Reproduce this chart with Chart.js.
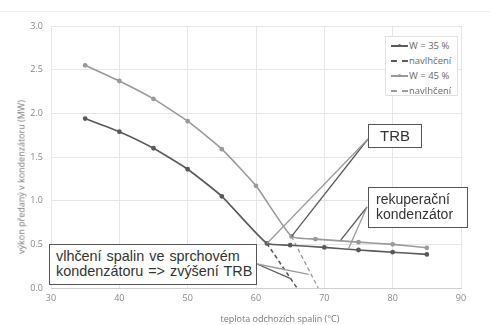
<!DOCTYPE html>
<html>
<head>
<meta charset="utf-8">
<script src="https://cdn.jsdelivr.net/npm/chart.js@4.4.1/dist/chart.umd.min.js"></script>
<style>
  body { margin: 0; background: #fff; }
  #wrap { position: relative; width: 490px; height: 325px; overflow: hidden; }
  #topline { position: absolute; left: 0; top: 11px; width: 490px; border-top: 1px solid #eee; }
  .box { position: absolute; background: #fff; border: 1px solid #555; font-family: "Liberation Sans", Arial, sans-serif; color: #333; box-sizing: border-box; }
  .ytitle { position: absolute; left: 21px; top: 177px; transform: translate(-50%, -50%) rotate(-90deg); white-space: nowrap;
            font: 9px "Open Sans", sans-serif; color: #777; }
  .xtitle { position: absolute; left: 280px; top: 318px; transform: translate(-50%, -50%); white-space: nowrap;
            font: 9px "Open Sans", sans-serif; color: #777; }
  #legend { position: absolute; left: 385px; top: 36px; width: 73px; height: 60px; border: 1px solid #e2e2e2; background: #fff;
            box-sizing: border-box; font: 9.5px "Open Sans", sans-serif; color: #6a6a6a; padding-top: 1px; }
  #legend div { height: 15px; line-height: 15px; white-space: nowrap; position: relative; padding-left: 23px; }
  #legend .sw { position: absolute; left: 5px; top: 7px; width: 17px; height: 0; }
  #legend .dot { position: absolute; left: 12px; top: 5.5px; width: 3px; height: 3px; border-radius: 50%; }
</style>
</head>
<body>
<div id="wrap">
  <canvas id="chart" width="490" height="325"></canvas>
  <div id="topline"></div>
  <div class="ytitle">výkon předaný v kondenzátoru (MW)</div>
  <div class="xtitle">teplota odchozích spalin (°C)</div>
  <div id="legend"></div>
  <div class="box" style="left:368px; top:124px; width:54px; height:24px; font-size:15px; line-height:22px; text-align:center;">TRB</div>
  <div class="box" style="left:368px; top:187px; width:100px; height:41px; font-size:14px; line-height:15px; padding:4px 0 0 7px;">rekuperační<br>kondenzátor</div>
  <div class="box" style="left:49px; top:244px; width:208px; height:41px; font-size:14.4px; line-height:15px; padding:4px 0 0 6px; word-spacing:1px;">vlhčení spalin ve sprchovém<br>kondenzátoru =&gt; zvýšení TRB</div>
</div>
<script>
// teplota spalin (°C) a výkon (MW)
const temp35 = [35, 40, 45, 50, 55, 61.6, 65, 70, 75, 80, 85];
const power35 = [1.94, 1.79, 1.60, 1.36, 1.05, 0.51, 0.49, 0.465, 0.435, 0.41, 0.385];
const temp45 = [35, 40, 45, 50, 55, 60, 65.2, 68.7, 75, 80, 85];
const power45 = [2.55, 2.37, 2.165, 1.91, 1.59, 1.17, 0.59, 0.56, 0.525, 0.50, 0.46];
// navlhčení (čárkovaně)
const wetTemp35 = [61.6, 66];
const wetPower35 = [0.51, 0];
const wetTemp45 = [65.2, 69.1];
const wetPower45 = [0.59, 0];

const seriesLabels = ['W = 35 %', 'navlhčení', 'W = 45 %', 'navlhčení'];
const xTicks = [30, 40, 50, 60, 70, 80, 90];
const yTicks = [0, 0.5, 1, 1.5, 2, 2.5, 3];

const dark = '#5a5a5a';
const light = '#9a9a9a';

function pts(xs, ys) {
    return xs.map((x, i) => ({ x: x, y: ys[i] }));
}

// legenda
const legendEl = document.getElementById('legend');
const legendStyle = [
    { color: dark, dash: false },
    { color: dark, dash: true },
    { color: light, dash: false },
    { color: light, dash: true }
];
seriesLabels.forEach((lab, i) => {
    const s = legendStyle[i];
    const row = document.createElement('div');
    row.innerHTML = '<span class="sw" style="border-top:2px ' + (s.dash ? 'dashed ' : 'solid ') + s.color + '"></span>' +
        (s.dash ? '' : '<span class="dot" style="background:' + s.color + '"></span>') + lab;
    legendEl.appendChild(row);
});

// odkazové čáry od popisků
const callouts = {
    id: 'callouts',
    afterDatasetsDraw(chart) {
        const c = chart.ctx;
        const X = v => chart.scales.x.getPixelForValue(v);
        const Y = v => chart.scales.y.getPixelForValue(v);
        const lines = [
            [368, 139, X(65.2), Y(0.59), dark],
            [368, 139, X(61.6), Y(0.51), light],
            [367, 207, X(72.4), Y(0.548), dark],
            [367, 207, X(73.5), Y(0.443), light],
            [257, 264, X(65.0), Y(0.11), dark],
            [257, 264, X(67.7), Y(0.155), light]
        ];
        c.save();
        c.lineWidth = 1.3;
        lines.forEach(l => {
            c.strokeStyle = l[4];
            c.beginPath();
            c.moveTo(l[0], l[1]);
            c.lineTo(l[2], l[3]);
            c.stroke();
        });
        c.restore();
    }
};

const tickFont = { family: 'Open Sans', size: 9 };

new Chart(document.getElementById('chart').getContext('2d'), {
    type: 'scatter',
    data: {
        datasets: [
            {
                label: seriesLabels[0], data: pts(temp35, power35), showLine: true,
                borderColor: dark, backgroundColor: dark, borderWidth: 1.6,
                pointRadius: 1.6, tension: 0.15
            },
            {
                label: seriesLabels[1], data: pts(wetTemp35, wetPower35), showLine: true,
                borderColor: dark, borderWidth: 1.6, borderDash: [4, 3], pointRadius: 0
            },
            {
                label: seriesLabels[2], data: pts(temp45, power45), showLine: true,
                borderColor: light, backgroundColor: light, borderWidth: 1.6,
                pointRadius: 1.6, tension: 0.15
            },
            {
                label: seriesLabels[3], data: pts(wetTemp45, wetPower45), showLine: true,
                borderColor: light, borderWidth: 1.3, borderDash: [4, 3], pointRadius: 0
            }
        ]
    },
    options: {
        responsive: false,
        animation: false,
        layout: { padding: { left: 0, top: 26, right: 29, bottom: 0 } },
        plugins: { legend: { display: false }, tooltip: { enabled: false } },
        scales: {
            x: {
                type: 'linear', min: 30, max: 90,
                afterBuildTicks: s => { s.ticks = xTicks.map(v => ({ value: v })); },
                afterFit: s => { s.height = 37; },
                ticks: { color: '#888', font: tickFont, padding: 5 },
                grid: { color: '#e6e6e6', drawTicks: false },
                border: { color: '#d0d0d0' }
            },
            y: {
                min: 0, max: 3,
                afterBuildTicks: s => { s.ticks = yTicks.map(v => ({ value: v })); },
                afterFit: s => { s.width = 51; },
                ticks: { color: '#888', font: tickFont, padding: 8, callback: v => v.toFixed(1) },
                grid: { color: '#e6e6e6', drawTicks: false },
                border: { display: false }
            }
        }
    },
    plugins: [callouts]
});
</script>
</body>
</html>
